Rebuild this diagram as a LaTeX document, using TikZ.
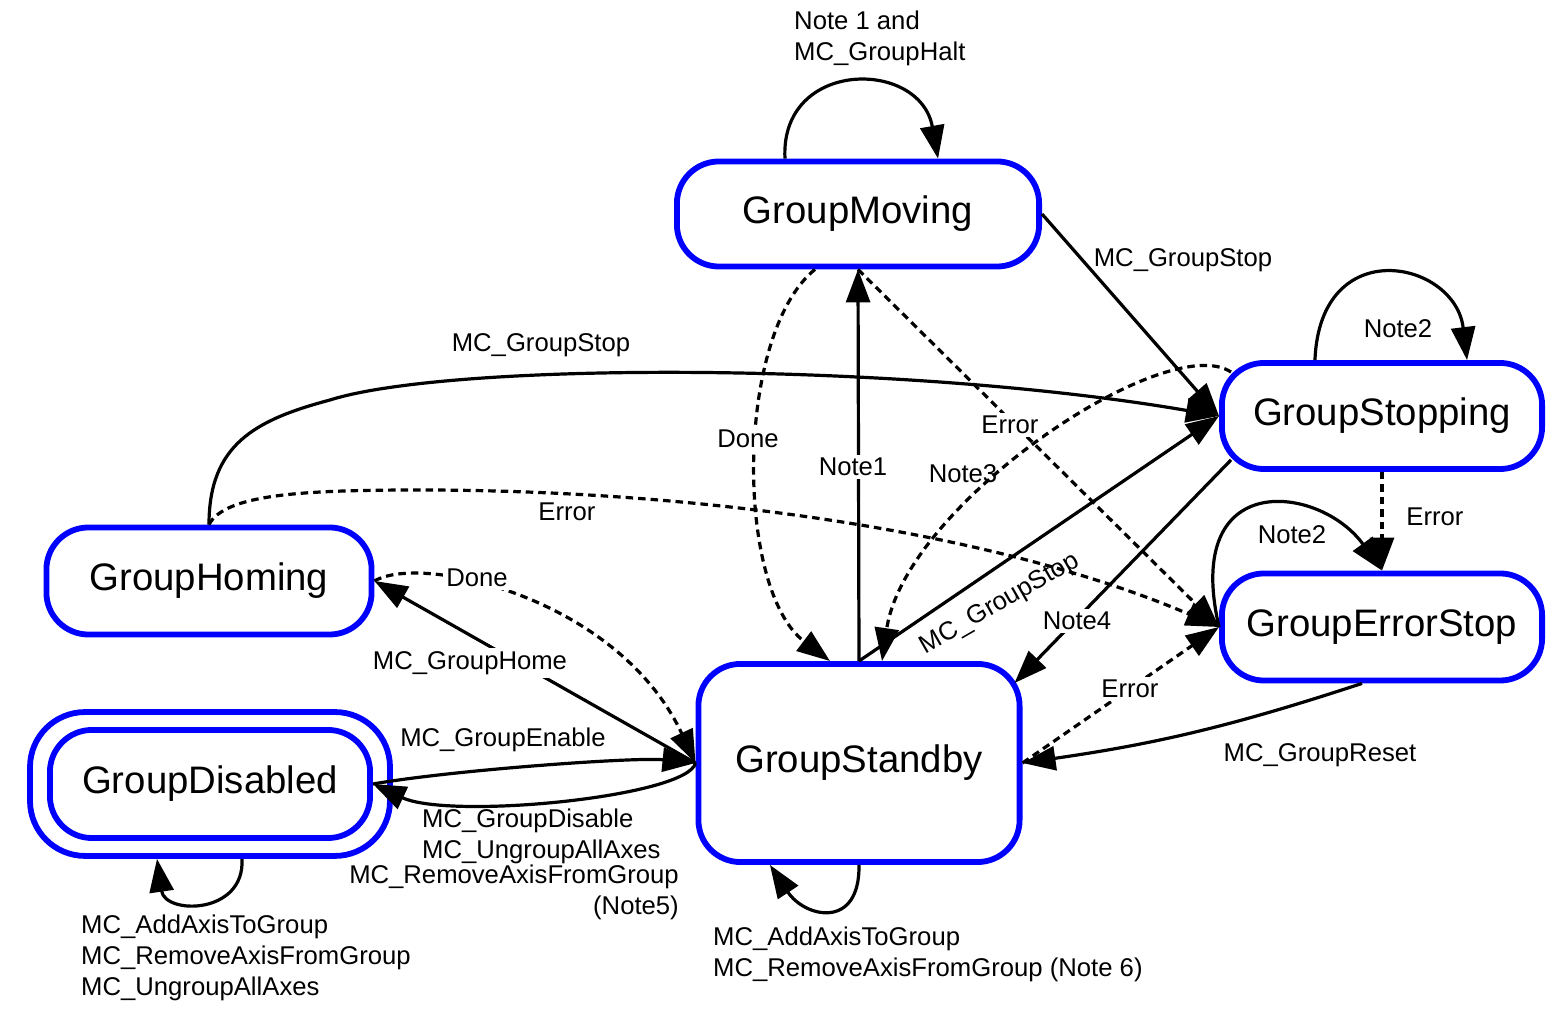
\documentclass[tikz,border=0pt]{standalone}
\usepackage{fontspec}
\setmainfont{Liberation Sans}
\usetikzlibrary{arrows.meta,calc}

\begin{document}
\begin{tikzpicture}[x=0.01cm, y=0.01cm]
	\tikzstyle{every node}=[font=\fontsize{7.3}{8.8}\selectfont]
	\tikzstyle{statebox}=[draw=blue, line width=0.058cm, rounded corners=0.42cm, fill=white, font=\fontsize{10.9}{13}\selectfont]
	\tikzstyle{trans}=[line width=0.032cm, -{Triangle[length=0.33cm,width=0.24cm]}]
	\tikzstyle{errtrans}=[trans, dash pattern=on 0.075cm off 0.05cm]
	\tikzstyle{lbl}=[inner sep=1pt]
	\tikzstyle{cutlbl}=[lbl, fill=white]
	\useasboundingbox (0,0) rectangle (1566,1012);

	% states
	\node[statebox, minimum width=3.62cm, minimum height=1.05cm] (moving) at (858,798) {GroupMoving};
	\node[statebox, minimum width=3.20cm, minimum height=1.06cm] (stopping) at (1382,596) {GroupStopping};
	\node[statebox, minimum width=3.20cm, minimum height=1.07cm] (errorstop) at (1382,385) {GroupErrorStop};
	\node[statebox, minimum width=3.25cm, minimum height=1.07cm] (homing) at (209,431) {GroupHoming};
	\node[statebox, minimum width=3.20cm, minimum height=1.08cm] (disabled) at (210,228) {GroupDisabled};
	\node[statebox, minimum width=3.21cm, minimum height=1.98cm] (standby) at (859,249) {GroupStandby};
	\draw[blue, line width=0.058cm, rounded corners=0.55cm] ([shift={(-17,-15)}]disabled.south west) rectangle ([shift={(17,15)}]disabled.north east);

	% GroupMoving
	\draw[trans] ([xshift=-0.73cm]moving.north) .. controls +(-5,100) and +(-18,100) .. ([xshift=0.80cm]moving.north);
	\draw[trans] (moving.east) -- (stopping.west);
	\draw[errtrans] ([xshift=-0.43cm]moving.south) .. controls +(-80,-65) and +(-95,72) .. ([xshift=-0.29cm]standby.north);
	\draw[errtrans] (moving.south) -- (errorstop.west);
	% GroupStandby
	\draw[trans] (standby.north) -- (moving.south);
	\draw[trans] (standby.north) -- (stopping.west);
	\draw[errtrans] (standby.east) -- (errorstop.west);
	\draw[trans] (standby.west) -- (homing.east);
	\draw[trans] (standby.west) .. controls +(-8,-34) and +(77,-36) .. (disabled.east);
	\draw[trans] (standby.south) .. controls +(1,-65) and +(35,-53) .. ([xshift=-0.89cm]standby.south);
	% GroupStopping
	\draw[trans] ([xshift=-0.67cm]stopping.north) .. controls +(5,128) and +(-12,100) .. ([xshift=0.85cm]stopping.north);
	\draw[errtrans] ([shift={(12,-12)}]stopping.north west) .. controls +(-64,43) and +(23,157) .. ([xshift=0.23cm]standby.north);
	\draw[trans] ([shift={(12,12)}]stopping.south west) -- ([shift={(-8,-22)}]standby.north east);
	\draw[errtrans] (stopping.south) -- (errorstop.north);
	% GroupErrorStop
	\draw[trans] (errorstop.west) .. controls +(-37,160) and +(-62,86) .. (errorstop.north);
	\draw[trans] ([xshift=-0.2cm]errorstop.south) to[bend left=5] (standby.east);
	% GroupHoming
	\coordinate (hmbend) at (330,612);
	\coordinate (hmerrbend) at (420,522);
	\draw[trans] (homing.north) .. controls +(0,80) and +(-75,-20) .. (hmbend) .. controls +(120,38) and +(-320,55) .. (stopping.west);
	\draw[errtrans] (homing.north) .. controls +(16,30) and +(-120,0) .. (hmerrbend) .. controls +(280,0) and +(-222,95) .. (errorstop.west);
	\draw[errtrans] (homing.east) .. controls +(47,28) and +(-77,165) .. (standby.west);
	% GroupDisabled
	\draw[trans] (disabled.east) .. controls +(80,14) and +(-60,6) .. (standby.west);
	\draw[trans] ([shift={(32,-18)}]disabled.south) .. controls +(3,-56) and +(8,-56) .. ([shift={(-53,-18)}]disabled.south);

	% labels
	\node[lbl, anchor=west, align=left] (lblhalt) at (790,974) {Note 1 and\\MC\_GroupHalt};
	\node[lbl] (lblmvstop) at (1183,752) {MC\_GroupStop};
	\node[cutlbl] (lblmvdone) at (748,573) {Done};
	\node[cutlbl] (lblnote1) at (853,545) {Note1};
	\node[cutlbl] (lblmverr) at (1010,587) {Error};
	\node[lbl] (lblnote3) at (963,538) {Note3};
	\node[lbl, rotate=30] (lblsbstop) at (1000,408) {MC\_GroupStop};
	\node[cutlbl] (lblnote4) at (1077,391) {Note4};
	\node[lbl] (lblstnote2) at (1398,683) {Note2};
	\node[lbl] (lblsterr) at (1435,495) {Error};
	\node[lbl] (lblesnote2) at (1292,477) {Note2};
	\node[cutlbl] (lblsberr) at (1130,323) {Error};
	\node[lbl] (lblreset) at (1320,257) {MC\_GroupReset};
	\node[lbl] (lblhmstop) at (541,667) {MC\_GroupStop};
	\node[lbl] (lblhmerr) at (567,500) {Error};
	\node[cutlbl] (lblhome) at (470,349) {MC\_GroupHome};
	\node[cutlbl] (lblhmdone) at (477,434) {Done};
	\node[lbl] (lblenable) at (503,272) {MC\_GroupEnable};
	\node[lbl, anchor=west, align=left] (lbldisable) at (418,176) {MC\_GroupDisable\\MC\_UngroupAllAxes};
	\node[lbl, anchor=east, align=right] (lblremove) at (683,120) {MC\_RemoveAxisFromGroup\\(Note5)};
	\node[lbl, anchor=west, align=left] (lbldisloop) at (77,54) {MC\_AddAxisToGroup\\MC\_RemoveAxisFromGroup\\MC\_UngroupAllAxes};
	\node[lbl, anchor=west, align=left] (lblsbloop) at (709,58) {MC\_AddAxisToGroup\\MC\_RemoveAxisFromGroup (Note 6)};
\end{tikzpicture}
\end{document}
